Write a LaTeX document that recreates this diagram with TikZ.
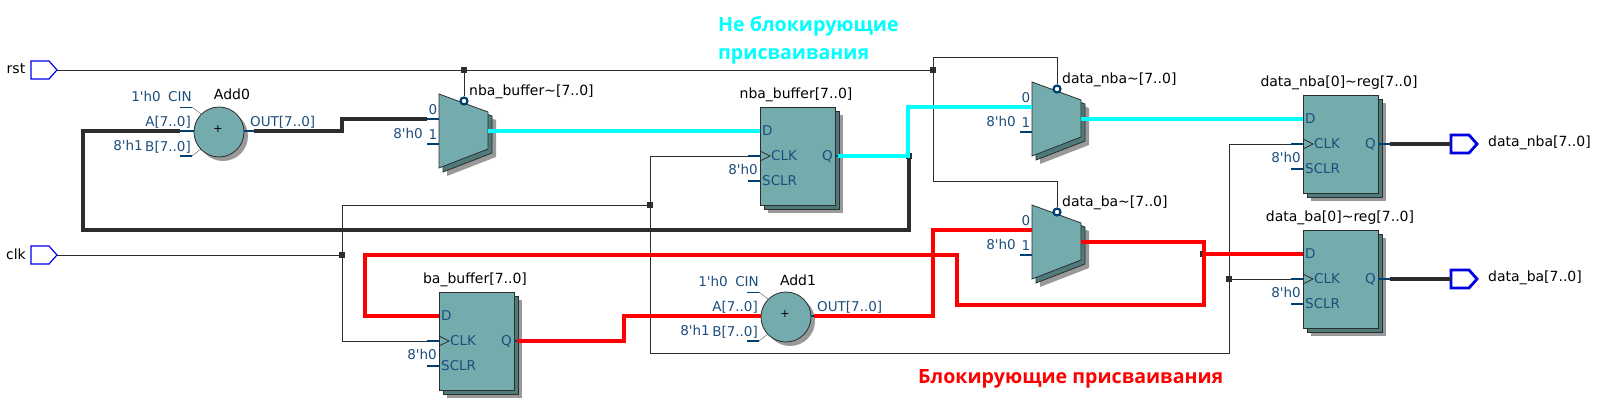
\documentclass[tikz,border=0pt]{standalone}
\usepackage{fontspec}
\setmainfont{DejaVu Sans}
\newfontfamily\capfont{Open Sans}
\usetikzlibrary{shapes}
\definecolor{blockfill}{RGB}{116,172,174}
\definecolor{blockdark}{RGB}{78,122,124}
\definecolor{blockshade}{RGB}{153,153,153}
\definecolor{pinblue}{RGB}{0,64,112}
\definecolor{pintext}{RGB}{28,78,124}
\definecolor{wiredark}{RGB}{45,45,45}
\definecolor{portblue}{RGB}{0,0,230}
\definecolor{purecyan}{RGB}{0,255,255}
\definecolor{purered}{RGB}{255,0,0}
\newcommand{\regblock}[3]{% register: name, left, top
\begin{scope}[shift={(#2,#3)}]
\fill [blockshade] (8,8) rectangle (83,106);
\filldraw [blockdark,draw=wiredark,thick] (4,4) rectangle (79,102);
\node [regbox] (#1) at (37.5,49) {};
\coordinate (#1d) at (0,24);
\coordinate (#1q) at (75,49);
\coordinate (#1qpin) at (87,49);
\coordinate (#1clk) at (-12,49);
\coordinate (#1sclr) at (-12,74);
\draw [pin] (#1clk) -- (0,49);
\draw [pin] (#1sclr) -- (0,74);
\draw [pin] (#1q) -- (#1qpin);
\draw [thinwire] (0,44) -- (10,49) -- (0,54);
\node [pinlabel,anchor=west] (#1dtext) at (2,24) {D};
\node [pinlabel,anchor=west] (#1clktext) at (11,49) {CLK};
\node [pinlabel,anchor=west] (#1sclrtext) at (2,74) {SCLR};
\node [pinlabel,anchor=east] (#1qtext) at (73,49) {Q};
\node [pinlabel,anchor=east] (#1zero) at (-2,62) {8\textquotesingle h0};
\end{scope}}
\newcommand{\muxblock}[3]{% mux: name, left, top
\begin{scope}[shift={(#2,#3)}]
\fill [blockshade] (8,8) -- (57,26) -- (57,63) -- (8,82) -- cycle;
\filldraw [blockdark,draw=wiredark,thick] (4,4) -- (53,22) -- (53,59) -- (4,78) -- cycle;
\filldraw [blockfill,draw=wiredark,thick] (0,0) -- (49,18) -- (49,55) -- (0,74) -- cycle;
\coordinate (#1a) at (0,25);
\coordinate (#1apin) at (-12,25);
\coordinate (#1b) at (-12,50);
\coordinate (#1out) at (49,37);
\draw [pin] (#1apin) -- (#1a);
\draw [pin] (#1b) -- (0,50);
\node [bubble] (#1bub) at (25,7) {};
\node [pinlabel] (#1zeropin) at (-6,16) {0};
\node [pinlabel] (#1onepin) at (-6,41) {1};
\node [pinlabel,anchor=east] (#1zero) at (-16,39) {8\textquotesingle h0};
\end{scope}}
\newcommand{\addblock}[3]{% adder: name, centre x, centre y
\begin{scope}[shift={(#2,#3)}]
\fill [blockshade] (4,4) circle (25);
\node [addbox] (#1) at (0,0) {};
\coordinate (#1a) at (-25,-1);
\coordinate (#1apin) at (-39,-1);
\coordinate (#1out) at (25,-1);
\coordinate (#1outpin) at (35,-1);
\draw [pin] (#1apin) -- (#1a);
\draw [pin] (#1out) -- (#1outpin);
\draw [pin] (-39,24) -- (-27,24);
\draw [black,very thin] (-27,24) -- (-18,17);
\draw [pinblue,thin] (-39,-25) -- (-27,-25);
\draw [black,very thin] (-27,-25) -- (-18,-18);
\node [font=\fontsize{11}{11}\selectfont] (#1plus) at (-1,-3) {+};
\node [pinlabel,anchor=east] (#1cinval) at (-58,-36) {1\textquotesingle h0};
\node [pinlabel] (#1cin) at (-39,-35) {CIN};
\node [pinlabel,anchor=east] (#1atext) at (-28,-10) {A[7..0]};
\node [pinlabel,anchor=east] (#1bval) at (-76,13) {8\textquotesingle h1};
\node [pinlabel,anchor=east] (#1btext) at (-28,15) {B[7..0]};
\node [pinlabel,anchor=west] (#1outtext) at (31,-10) {OUT[7..0]};
\end{scope}}
\newcommand{\portblock}[4]{% port: name, left, middle, style
\begin{scope}[shift={(#2,#3)}]
\draw [#4] (0,-9) -- (18,-9) -- (26,0) -- (18,9) -- (0,9) -- cycle;
\coordinate (#1in) at (0,0);
\coordinate (#1tip) at (26,0);
\end{scope}}
\begin{document}
\begin{tikzpicture}[x=1pt,y=-1pt,
regbox/.style={draw=wiredark,thick,fill=blockfill,minimum width=75pt,minimum height=98pt,inner sep=0pt},
addbox/.style={circle,draw=wiredark,thick,fill=blockfill,minimum size=50pt,inner sep=0pt},
bubble/.style={circle,draw=pinblue,line width=2.2pt,fill=white,minimum size=7pt,inner sep=0pt},
junction/.style={rectangle,fill=wiredark,minimum size=6pt,inner sep=0pt},
pin/.style={pinblue,line width=2.4pt},
pinlabel/.style={text=pintext,font=\fontsize{13.5}{13.5}\selectfont,inner sep=0pt},
name label/.style={text=black,font=\fontsize{14}{14}\selectfont,inner sep=0pt},
thinwire/.style={wiredark,line width=0.8pt},
buswire/.style={wiredark,line width=3.05pt},
cyanwire/.style={purecyan,line width=3.05pt},
redwire/.style={purered,line width=3.05pt},
inport/.style={portblue,line width=1.2pt},
outport/.style={portblue,line width=2.8pt},
caption/.style={font=\capfont\fontsize{19.6}{20}\selectfont\bfseries,inner sep=0pt,anchor=west}]
\useasboundingbox (0,0) rectangle (1601,419);
% blocks
\regblock{nbabuf}{760}{107}
\regblock{babuf}{439}{292}
\regblock{nbareg}{1303}{95}
\regblock{bareg}{1303}{230}
\muxblock{nbamux}{439}{94}
\muxblock{dnbamux}{1032}{82}
\muxblock{dbamux}{1032}{205}
\addblock{addzero}{219}{132}
\addblock{addone}{786}{317}
\portblock{rst}{31}{70}{inport}
\portblock{clk}{31}{255}{inport}
\portblock{dnba}{1451}{144}{outport}
\portblock{dba}{1451}{279}{outport}
% texts
\node [name label] (rsttext) at (16,69) {rst};
\node [name label] (clktext) at (16,254) {clk};
\node [name label] (addzerotext) at (232,94) {Add0};
\node [name label] (addonetext) at (798,280) {Add1};
\node [name label,anchor=west] (nbamuxtext) at (469,92) {nba\_buffer\textasciitilde[7..0]};
\node [name label,anchor=west] (dnbamuxtext) at (1062,80) {data\_nba\textasciitilde[7..0]};
\node [name label,anchor=west] (dbamuxtext) at (1062,203) {data\_ba\textasciitilde[7..0]};
\node [name label] (nbabuftext) at (796,95) {nba\_buffer[7..0]};
\node [name label] (babuftext) at (475,280) {ba\_buffer[7..0]};
\node [name label] (nbaregtext) at (1339,83) {data\_nba[0]\textasciitilde reg[7..0]};
\node [name label] (baregtext) at (1340,218) {data\_ba[0]\textasciitilde reg[7..0]};
\node [name label,anchor=west] (dnbatext) at (1488,143) {data\_nba[7..0]};
\node [name label,anchor=west] (dbatext) at (1488,278) {data\_ba[7..0]};
\node [caption,purecyan] (captop) at (718,26) {Не блокирующие};
\node [caption,purecyan] (capmid) at (718,56) {присваивания};
\node [caption,purered] (caplow) at (918,379) {Блокирующие присваивания};
% junctions
\node [junction] (rstleft) at (464,70) {};
\node [junction] (rstright) at (933,70) {};
\node [junction] (clkleft) at (342,255) {};
\node [junction] (clkmid) at (650,205) {};
\node [junction] (clkright) at (1229,279) {};
\node [junction] (nbaj) at (909,156) {};
\node [junction] (baj) at (1203,254) {};
% corners
\coordinate (rsttop) at (933,57);
\coordinate (rstlow) at (933,181);
\coordinate (clkbot) at (1229,353);
\coordinate (backleft) at (83,230);
\coordinate (addzerobend) at (342,119);
\coordinate (cyantop) at (908,107);
\coordinate (redlow) at (1204,305);
\coordinate (redup) at (957,255);
\coordinate (redfar) at (365,316);
\coordinate (redbend) at (624,316);
\coordinate (redmid) at (933,230);
% control wires
\draw [thinwire] (rsttip) -- (rstright);
\draw [thinwire] (rstleft) -- (nbamuxbub);
\draw [thinwire] (rstright) -- (rsttop) -| (dnbamuxbub.north);
\draw [thinwire] (rstright) -- (rstlow) -| (dbamuxbub.north);
\draw [thinwire] (clktip) -- (clkleft);
\draw [thinwire] (clkmid) -| (clkleft);
\draw [thinwire] (clkleft) |- (babufclk);
\draw [thinwire] (clkmid) |- (nbabufclk);
\draw [thinwire] (clkmid) |- (clkbot) |- (nbaregclk);
\draw [thinwire] (clkright) -- (baregclk);
% data wires
\draw [buswire] (nbaj) |- (backleft) |- (addzeroapin);
\draw [buswire] (addzerooutpin) -| (addzerobend) -- (nbamuxapin);
\draw [buswire] (nbaregqpin) -- (dnbain);
\draw [buswire] (baregqpin) -- (dbain);
\draw [cyanwire] (nbamuxout) -- (nbabufd);
\draw [cyanwire,shorten <=3pt] (nbabufq) -| (cyantop) -- (dnbamuxa);
\draw [cyanwire] (dnbamuxout) -- (nbaregd);
\draw [redwire] (dbamuxout) -| (redlow) -| (redup) -| (redfar) -- (babufd);
\draw [redwire] (baj) -- (baregd);
\draw [redwire,shorten <=3pt] (babufq) -| (redbend) -- (addonea);
\draw [redwire,shorten <=3pt] (addoneout) -| (redmid) -- (dbamuxa);
\end{tikzpicture}
\end{document}
